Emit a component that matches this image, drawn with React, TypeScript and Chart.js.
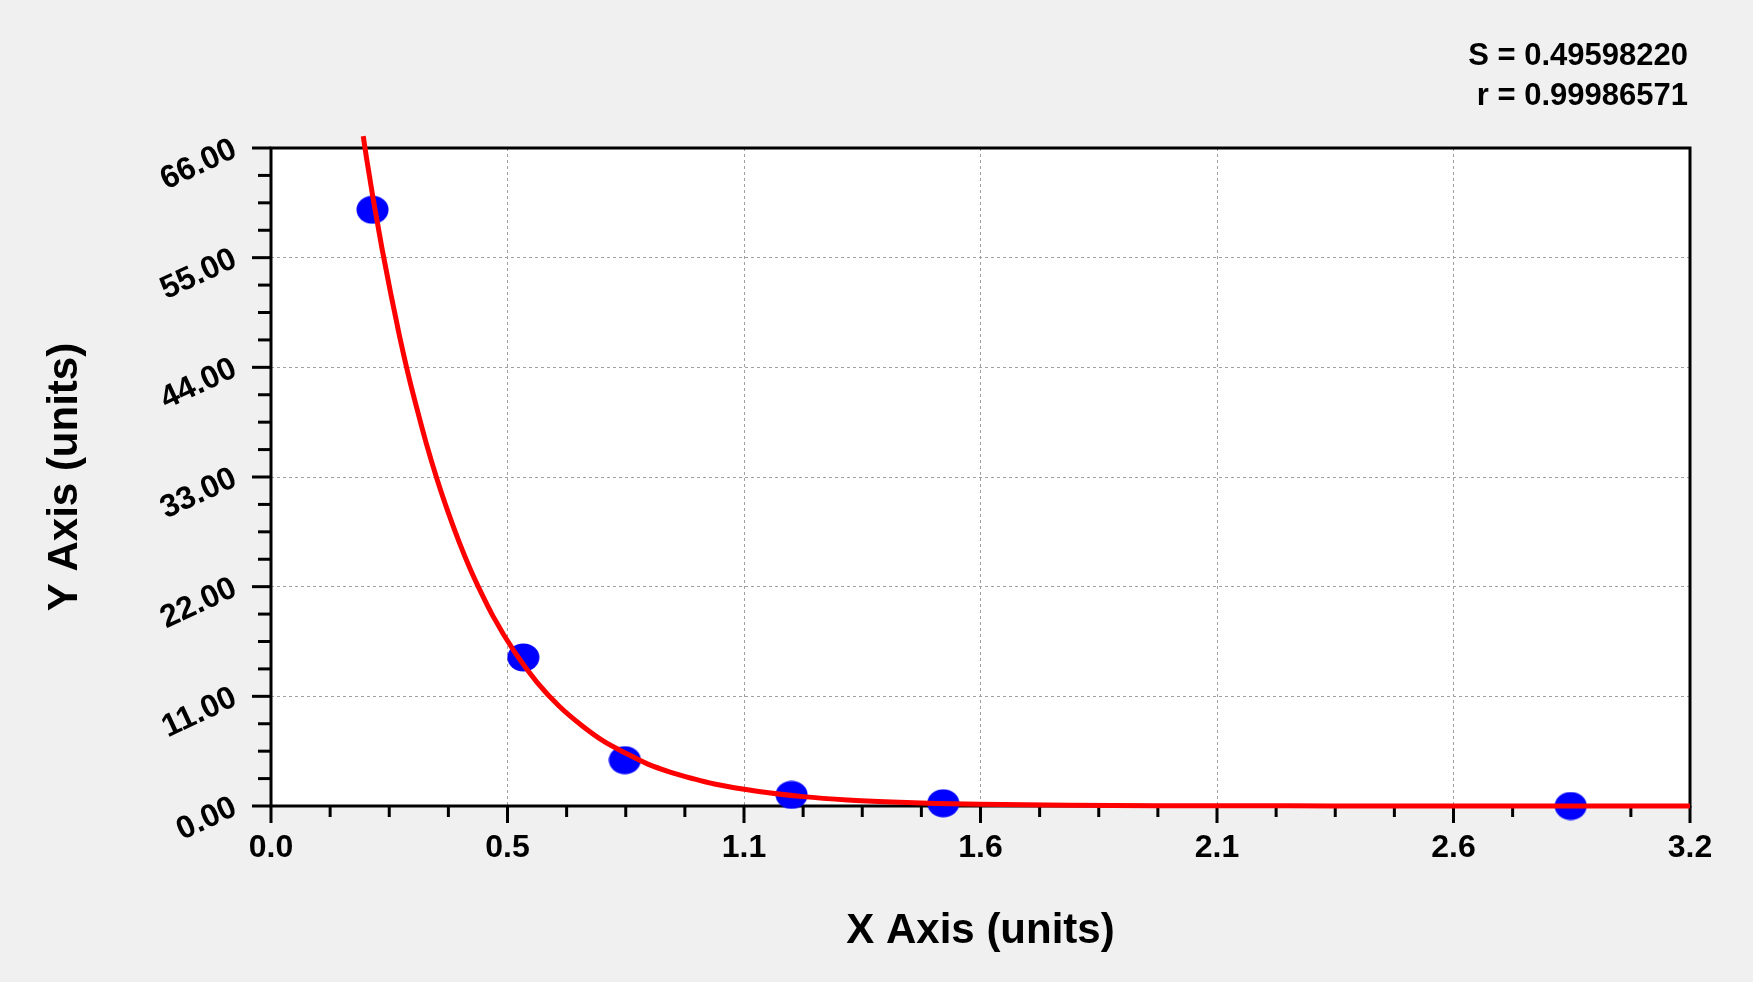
import React, { useEffect, useRef } from "react";
import { Chart, registerables } from "chart.js";

Chart.register(...registerables);

// ---- data ----
const pointX = [0.229, 0.569, 0.798, 1.174, 1.516, 2.931];
const pointY = [59.8, 14.9, 4.6, 1.11, 0.27, 0.0];

const curveX = [
  0.208, 0.215, 0.23, 0.25, 0.27, 0.29, 0.31, 0.33, 0.35, 0.375, 0.4, 0.425,
  0.45, 0.475, 0.5, 0.55, 0.6, 0.65, 0.7, 0.75, 0.8, 0.85, 0.9, 0.95, 1.0,
  1.1, 1.2, 1.3, 1.4, 1.5, 1.6, 1.8, 2.0, 2.4, 2.8, 3.2,
];
const curveY = [
  67.2, 65.1, 61.0, 56.0, 51.4, 47.1, 43.2, 39.7, 36.4, 32.7, 29.4, 26.4,
  23.7, 21.3, 19.1, 15.4, 12.4, 10.0, 8.1, 6.5, 5.3, 4.2, 3.4, 2.76, 2.2,
  1.45, 0.94, 0.61, 0.4, 0.26, 0.17, 0.07, 0.03, 0.01, 0.0, 0.0,
];

const xTickLabels = ["0.0", "0.5", "1.1", "1.6", "2.1", "2.6", "3.2"];
const yTickLabels = ["0.00", "11.00", "22.00", "33.00", "44.00", "55.00", "66.00"];
const xMax = 3.2;
const yMax = 66;
const xMinorPerMajor = 4;
const yMinorPerMajor = 4;
const statLines = ["S = 0.49598220", "r = 0.99986571"];
const xTitle = "X Axis (units)";
const yTitle = "Y Axis (units)";

const FONT = "'Liberation Sans', Arial, sans-serif";

export default function App() {
  const ref = useRef<HTMLCanvasElement | null>(null);

  useEffect(() => {
    document.body.style.margin = "0";
    const canvas = ref.current;
    if (!canvas) return;

    const marker = document.createElement("canvas");
    marker.width = 33;
    marker.height = 29;
    const mc = marker.getContext("2d")!;
    mc.fillStyle = "#0000ff";
    mc.beginPath();
    mc.ellipse(16.5, 14.5, 16, 14, 0, 0, Math.PI * 2);
    mc.fill();

    const xMajor = xTickLabels.map((_, i) => (i * xMax) / (xTickLabels.length - 1));
    const yMajor = yTickLabels.map((_, i) => (i * yMax) / (yTickLabels.length - 1));

    const framePlugin = {
      id: "frame",
      beforeDraw(chart: any) {
        const { ctx, chartArea: a, width, height } = chart;
        ctx.save();
        ctx.fillStyle = "#f0f0f0";
        ctx.fillRect(0, 0, width, height);
        ctx.fillStyle = "#ffffff";
        ctx.fillRect(a.left, a.top, a.right - a.left, a.bottom - a.top);
        ctx.restore();
      },
      beforeDatasetsDraw(chart: any) {
        const { ctx, chartArea: a } = chart;
        const xs = chart.scales.x;
        const ys = chart.scales.y;
        ctx.save();
        ctx.strokeStyle = "#000000";
        ctx.lineWidth = 3;
        ctx.lineCap = "butt";
        const nx = (xTickLabels.length - 1) * xMinorPerMajor;
        for (let i = 0; i <= nx; i++) {
          const v = (i * xMax) / nx;
          const px = xs.getPixelForValue(v);
          const len = i % xMinorPerMajor === 0 ? 17 : 11;
          ctx.beginPath();
          ctx.moveTo(px, a.bottom);
          ctx.lineTo(px, a.bottom + len);
          ctx.stroke();
        }
        const ny = (yTickLabels.length - 1) * yMinorPerMajor;
        for (let i = 0; i <= ny; i++) {
          const v = (i * yMax) / ny;
          const py = ys.getPixelForValue(v);
          const len = i % yMinorPerMajor === 0 ? 19 : 13;
          ctx.beginPath();
          ctx.moveTo(a.left, py);
          ctx.lineTo(a.left - len, py);
          ctx.stroke();
        }
        ctx.strokeRect(a.left, a.top, a.right - a.left, a.bottom - a.top);
        ctx.restore();
      },
      afterDraw(chart: any) {
        const { ctx, chartArea: a } = chart;
        ctx.save();
        ctx.fillStyle = "#000000";
        ctx.font = `bold 31px ${FONT}`;
        ctx.textAlign = "right";
        ctx.textBaseline = "alphabetic";
        statLines.forEach((t, i) => {
          ctx.fillText(t, a.right - 2, 65 + i * 40);
        });
        ctx.restore();
      },
    };

    const chart = new Chart(canvas, {
      type: "scatter",
      data: {
        datasets: [
          {
            label: "fit",
            data: curveX.map((x, i) => ({ x, y: curveY[i] })),
            showLine: true,
            borderColor: "#ff0000",
            backgroundColor: "#ff0000",
            borderWidth: 5,
            pointRadius: 0,
            cubicInterpolationMode: "monotone",
            clip: false,
          } as any,
          {
            label: "points",
            data: pointX.map((x, i) => ({ x, y: pointY[i] })),
            pointStyle: marker as any,
            pointRadius: 15,
            backgroundColor: "#0000ff",
            borderColor: "#0000ff",
            clip: false,
          } as any,
        ],
      },
      plugins: [framePlugin],
      options: {
        animation: false,
        responsive: false,
        devicePixelRatio: 1,
        layout: { padding: { left: 0, top: 148, right: 63, bottom: 0 } },
        plugins: {
          legend: { display: false },
          tooltip: { enabled: false },
        },
        scales: {
          x: {
            type: "linear",
            min: 0,
            max: xMax,
            afterBuildTicks: (scale: any) => {
              scale.ticks = xMajor.map((v) => ({ value: v }));
            },
            afterFit: (scale: any) => {
              scale.height = 176;
            },
            grid: {
              color: "#a0a0a0",
              lineWidth: 1,
              drawTicks: false,
            },
            border: { display: false, dash: [3, 3] },
            ticks: {
              padding: 23,
              color: "#000000",
              font: { family: FONT, size: 32, weight: "bold" },
              maxRotation: 0,
              minRotation: 0,
              callback: (_v: any, i: number) => xTickLabels[i],
            },
            title: {
              display: true,
              text: xTitle,
              color: "#000000",
              font: { family: FONT, size: 42, weight: "bold" },
              padding: { top: 0, bottom: 25 },
            },
          },
          y: {
            type: "linear",
            min: 0,
            max: yMax,
            afterBuildTicks: (scale: any) => {
              scale.ticks = yMajor.map((v) => ({ value: v }));
            },
            afterFit: (scale: any) => {
              scale.width = 271;
            },
            grid: {
              color: "#a0a0a0",
              lineWidth: 1,
              drawTicks: false,
            },
            border: { display: false, dash: [3, 3] },
            ticks: {
              padding: 36,
              color: "#000000",
              font: { family: FONT, size: 32, weight: "bold" },
              minRotation: 25,
              maxRotation: 25,
              callback: (_v: any, i: number) => yTickLabels[i],
            },
            title: {
              display: true,
              text: yTitle,
              color: "#000000",
              font: { family: FONT, size: 42, weight: "bold" },
              padding: { top: 40, bottom: 0 },
            },
          },
        },
      } as any,
    });

    return () => chart.destroy();
  }, []);

  return (
    <div style={{ position: "absolute", left: 0, top: 0, width: 1753, height: 982 }}>
      <canvas ref={ref} width={1753} height={982} style={{ display: "block", width: 1753, height: 982 }} />
    </div>
  );
}
